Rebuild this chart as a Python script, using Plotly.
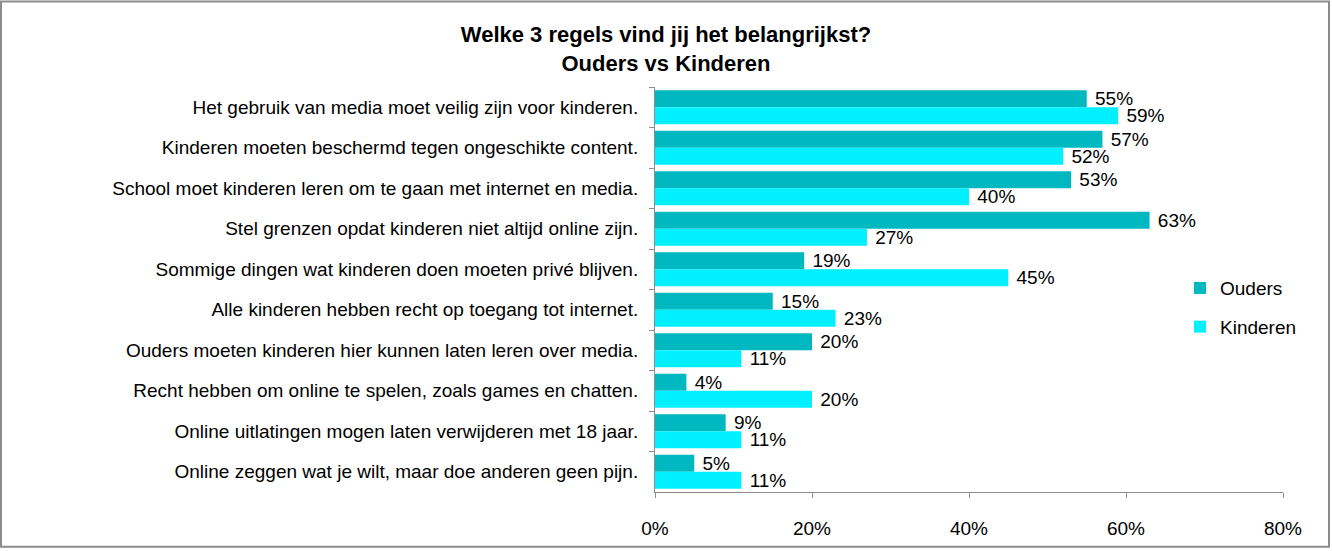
import plotly.graph_objects as go

categories = [
    "Het gebruik van media moet veilig zijn voor kinderen.",
    "Kinderen moeten beschermd tegen ongeschikte content.",
    "School moet kinderen leren om te gaan met internet en media.",
    "Stel grenzen opdat kinderen niet altijd online zijn.",
    "Sommige dingen wat kinderen doen moeten privé blijven.",
    "Alle kinderen hebben recht op toegang tot internet.",
    "Ouders moeten kinderen hier kunnen laten leren over media.",
    "Recht hebben om online te spelen, zoals games en chatten.",
    "Online uitlatingen mogen laten verwijderen met 18 jaar.",
    "Online zeggen wat je wilt, maar doe anderen geen pijn.",
]
ouders = [55, 57, 53, 63, 19, 15, 20, 4, 9, 5]
kinderen = [59, 52, 40, 27, 45, 23, 11, 20, 11, 11]
x_ticks = [0, 20, 40, 60, 80]
x_tick_labels = ["0%", "20%", "40%", "60%", "80%"]

FONT = "Liberation Sans, Arial, sans-serif"
FS = 19

fig = go.Figure()
fig.add_trace(go.Bar(
    y=categories, x=ouders, name="Ouders", orientation="h",
    marker=dict(color="#00B8C0", line=dict(width=0)),
    text=[f" {v}%" for v in ouders], textposition="outside",
    constraintext="none",
    textfont=dict(size=FS, color="black", family=FONT),
    cliponaxis=False, legendgroup="a", hoverinfo="skip",
))
fig.add_trace(go.Bar(
    y=categories, x=kinderen, name="Kinderen", orientation="h",
    marker=dict(color="#00F0FF", line=dict(width=0)),
    text=[f" {v}%" for v in kinderen], textposition="outside",
    constraintext="none",
    textfont=dict(size=FS, color="black", family=FONT),
    cliponaxis=False, legendgroup="b", hoverinfo="skip",
))

L, R, T, B = 655, 49, 87, 57
W, H = 1332, 551
pw, ph = W - L - R, H - T - B

def px_x(p):
    return (p - L) / pw

def px_y(p):
    return (H - B - p) / ph

fig.update_layout(
    width=W, height=H,
    margin=dict(l=L, r=R, t=T, b=B),
    paper_bgcolor="white", plot_bgcolor="white",
    font=dict(family=FONT, size=FS, color="black"),
    title=dict(
        text="<b>Welke 3 regels vind jij het belangrijkst?<br>Ouders vs Kinderen</b>",
        x=0.5, xref="container", xanchor="center",
        y=1 - 42 / H, yref="container", yanchor="top",
        font=dict(size=22, family=FONT, color="black"),
    ),
    barmode="group", bargap=0.16, bargroupgap=0,
    showlegend=True,
    legend=dict(
        x=px_x(1180), y=px_y(270), xanchor="left", yanchor="top",
        font=dict(size=FS, family=FONT), traceorder="grouped",
        tracegroupgap=11, bgcolor="rgba(0,0,0,0)",
    ),
    xaxis=dict(
        range=[0, 80], tickvals=x_ticks, ticktext=x_tick_labels,
        showgrid=False, zeroline=False, fixedrange=True,
        showline=True, linecolor="#8c8c8c", linewidth=1,
        ticks="outside", ticklen=5, tickcolor="#8c8c8c",
        ticklabelstandoff=14,
        tickfont=dict(size=FS, family=FONT),
    ),
    yaxis=dict(
        autorange="reversed", showgrid=False, zeroline=False, fixedrange=True,
        showline=True, linecolor="#8c8c8c", linewidth=1,
        ticks="outside", ticklen=5, tickcolor="#8c8c8c",
        tickson="boundaries", ticklabelstandoff=12,
        tickfont=dict(size=FS, family=FONT),
    ),
    shapes=[dict(
        type="rect", xref="paper", yref="paper",
        x0=px_x(1), x1=px_x(1329), y0=px_y(549), y1=px_y(1),
        line=dict(color="#8c8c8c", width=2), fillcolor="rgba(0,0,0,0)",
    )],
)

fig.write_html(
    "out.html",
    config={"displayModeBar": False},
    post_script="document.body.style.margin='0';",
)
